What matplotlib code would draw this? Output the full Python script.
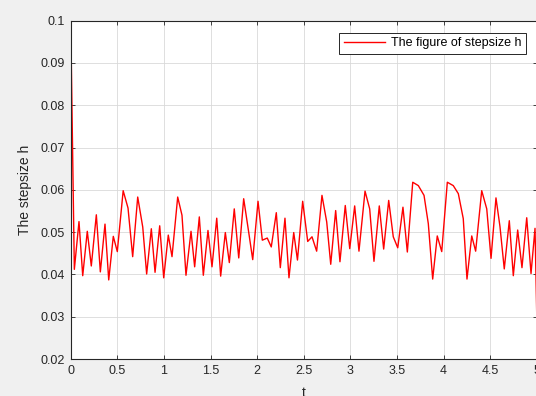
import matplotlib
matplotlib.use("Agg")
import matplotlib.pyplot as plt
from matplotlib.ticker import FuncFormatter

# time points and step sizes
t = [0.0, 0.039, 0.089, 0.129, 0.178, 0.221, 0.275, 0.318, 0.368, 0.408, 0.457,
     0.500, 0.563, 0.615, 0.665, 0.719, 0.773, 0.815, 0.865, 0.905, 0.955,
     0.998, 1.047, 1.087, 1.148, 1.194, 1.237, 1.291, 1.330, 1.380, 1.423,
     1.473, 1.516, 1.567, 1.609, 1.659, 1.702, 1.755, 1.803, 1.856, 1.905,
     1.953, 2.010, 2.056, 2.109, 2.152, 2.206, 2.249, 2.299, 2.342, 2.393,
     2.433, 2.489, 2.543, 2.589, 2.639, 2.696, 2.747, 2.790, 2.843, 2.889,
     2.946, 2.994, 3.047, 3.093, 3.158, 3.208, 3.254, 3.311, 3.358, 3.412,
     3.461, 3.509, 3.565, 3.612, 3.670, 3.730, 3.791, 3.837, 3.884, 3.933,
     3.981, 4.041, 4.105, 4.159, 4.212, 4.252, 4.303, 4.345, 4.410, 4.464,
     4.510, 4.563, 4.606, 4.652, 4.706, 4.749, 4.796, 4.842, 4.893, 4.939,
     4.982, 5.0]
h = [0.1, 0.0412, 0.0525, 0.0397, 0.0502, 0.0420, 0.0541, 0.0406, 0.0519, 0.0387, 0.0490,
     0.0454, 0.0598, 0.0557, 0.0442, 0.0583, 0.0512, 0.0401, 0.0508, 0.0405, 0.0515,
     0.0392, 0.0493, 0.0442, 0.0583, 0.0540, 0.0398, 0.0502, 0.0418, 0.0536, 0.0398,
     0.0504, 0.0418, 0.0533, 0.0396, 0.0499, 0.0428, 0.0555, 0.0439, 0.0579, 0.0507,
     0.0435, 0.0573, 0.0481, 0.0486, 0.0465, 0.0546, 0.0416, 0.0533, 0.0392, 0.0499,
     0.0434, 0.0573, 0.0478, 0.0489, 0.0455, 0.0587, 0.0524, 0.0424, 0.0551, 0.0430,
     0.0563, 0.0461, 0.0562, 0.0455, 0.0597, 0.0555, 0.0431, 0.0562, 0.0460, 0.0575,
     0.0489, 0.0463, 0.0559, 0.0453, 0.0618, 0.0610, 0.0587, 0.0520, 0.0389, 0.0491,
     0.0454, 0.0618, 0.0610, 0.0591, 0.0532, 0.0389, 0.0491, 0.0455, 0.0598, 0.0555,
     0.0438, 0.0581, 0.0513, 0.0413, 0.0527, 0.0397, 0.0505, 0.0416, 0.0534, 0.0402,
     0.0509, 0.031]

xticks = [0, 0.5, 1, 1.5, 2, 2.5, 3, 3.5, 4, 4.5, 5]
yticks = [0.02, 0.03, 0.04, 0.05, 0.06, 0.07, 0.08, 0.09, 0.1]

plt.rcParams['font.family'] = ['Liberation Sans', 'DejaVu Sans']

fig = plt.figure(figsize=(5.36, 3.96), dpi=100, facecolor='#f0f0f0')
ax = fig.add_axes([70.7/536, 1 - 359/396, 466/536, 338.3/396])
ax.set_facecolor('white')

ax.plot(t, h, color='red', lw=1.0, label='The figure of stepsize h')

ax.set_xlim(0, 5)
ax.set_ylim(0.02, 0.1)
ax.set_xticks(xticks)
ax.set_yticks(yticks)
ax.xaxis.set_major_formatter(FuncFormatter(lambda v, p: f'{v:g}'))
ax.yaxis.set_major_formatter(FuncFormatter(lambda v, p: f'{v:g}'))
ax.grid(True, color='#d9d9d9', lw=0.6)
ax.set_axisbelow(True)
ax.tick_params(direction='in', length=3, width=0.6, colors='#262626',
               labelsize=9, top=True, right=True, pad=4)
for s in ax.spines.values():
    s.set_color('#262626')
    s.set_linewidth(0.8)

ax.set_xlabel('t', fontsize=10, color='#262626', labelpad=7)
ax.set_ylabel('The stepsize h', fontsize=10, color='#262626', labelpad=6)

leg = ax.legend(loc='upper right', bbox_to_anchor=(0.977, 0.964), borderaxespad=0,
                fontsize=9, fancybox=False, framealpha=1, edgecolor='#262626',
                handlelength=3.3, borderpad=0.35, handletextpad=0.5)
leg.get_frame().set_linewidth(0.7)

fig.savefig('out.png', dpi=100, facecolor=fig.get_facecolor())
